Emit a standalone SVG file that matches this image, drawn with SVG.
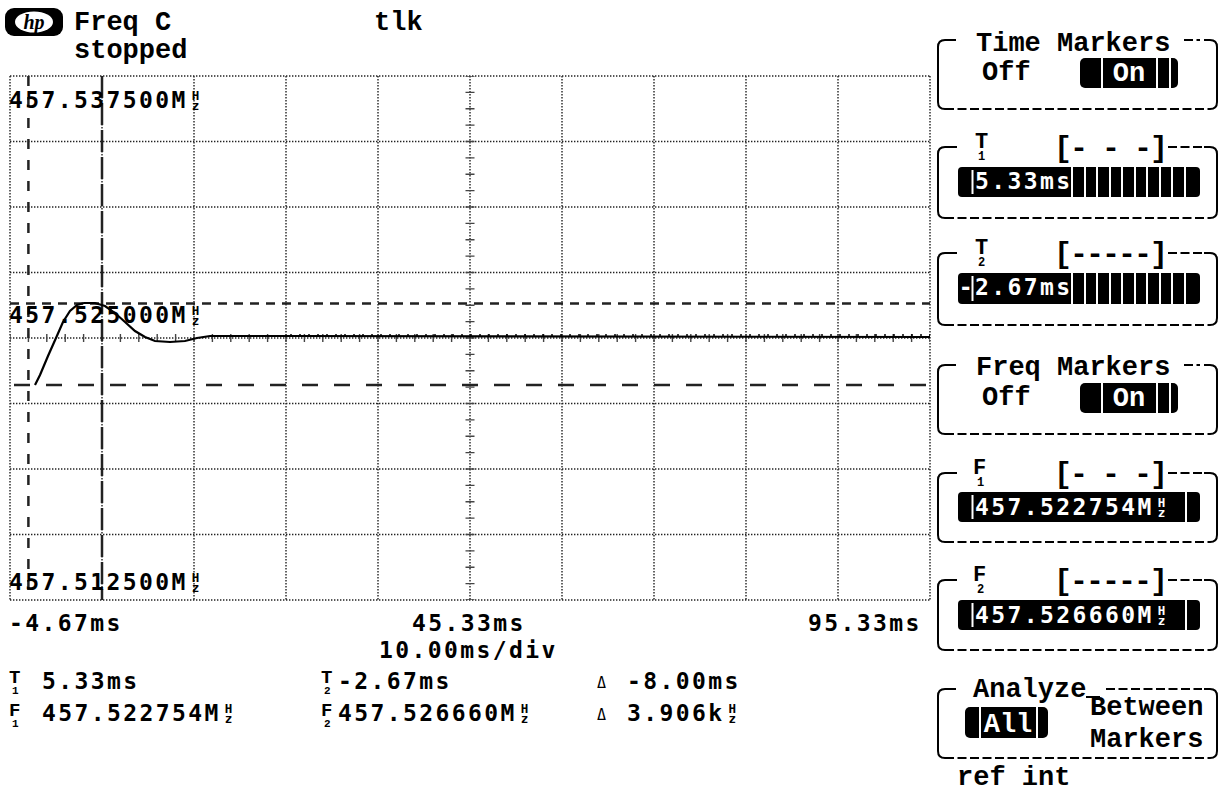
<svg xmlns="http://www.w3.org/2000/svg" width="1218" height="792" viewBox="0 0 1218 792">
<style>
.grid{fill:none;stroke:#222;stroke-width:1.4;stroke-dasharray:1.4 1.6}
.lbl{font-family:"Liberation Mono","DejaVu Sans Mono",monospace;font-weight:bold;font-size:27px;fill:#000}
.num{font-family:"DejaVu Sans Mono","Liberation Mono",monospace;font-size:23px;letter-spacing:2.4px;font-weight:bold;fill:#000}
.numb{font-family:"DejaVu Sans Mono","Liberation Mono",monospace;font-size:23px;letter-spacing:2.4px;font-weight:bold;fill:#000}
.hz{font-size:12.5px;letter-spacing:0;font-weight:bold}
.wt{fill:#fff}
.sub{font-family:"Liberation Mono","DejaVu Sans Mono",monospace;font-weight:bold;fill:#000}
.brk{font-family:"Liberation Mono","DejaVu Sans Mono",monospace;font-weight:bold;font-size:30px;fill:#000}
.edge{fill:none;stroke:#000;stroke-width:2}
.dash{fill:none;stroke:#000;stroke-width:2;stroke-dasharray:9 3.5}
.stripe{stroke:#fff;stroke-width:2}
</style>
<rect width="1218" height="792" fill="#fff"/>

<g id="header">
  <rect x="5" y="8" width="58" height="28" rx="9" fill="#000"/>
  <ellipse cx="34" cy="22" rx="19" ry="10.5" fill="#fff"/>
  <text x="34" y="29" text-anchor="middle" font-family="Liberation Serif,serif" font-style="italic" font-weight="bold" font-size="20">hp</text>
  <text class="lbl" x="74" y="30">Freq C</text>
  <text class="lbl" x="74" y="58">stopped</text>
  <text class="lbl" x="374" y="30">tlk</text>
</g>

<g id="graticule">
  <path class="grid" d="M10,76V600M102,76V600M194,76V600M286,76V600M378,76V600M470,76V600M562,76V600M654,76V600M746,76V600M838,76V600M930,76V600M10,76H930M10,141.5H930M10,207H930M10,272.5H930M10,338H930M10,403.5H930M10,469H930M10,534.5H930M10,600H930"/>
  <line x1="470" y1="76" x2="470" y2="600" stroke="#444" stroke-width="9" stroke-dasharray="1.4 14.975" stroke-dashoffset="0.7"/>
  <line x1="10" y1="338" x2="930" y2="338" stroke="#444" stroke-width="8" stroke-dasharray="1.4 17" stroke-dashoffset="0.7"/>
</g>

<g id="markers">
  <line x1="28.4" y1="76" x2="28.4" y2="600" stroke="#222" stroke-width="2.5" stroke-dasharray="10 11"/>
  <line x1="102" y1="76" x2="102" y2="600" stroke="#222" stroke-width="2.5" stroke-dasharray="22 5"/>
  <line x1="10" y1="303.5" x2="930" y2="303.5" stroke="#222" stroke-width="2.5" stroke-dasharray="9 7"/>
  <line x1="10" y1="385" x2="930" y2="385" stroke="#222" stroke-width="2.5" stroke-dasharray="16 16" stroke-dashoffset="-4"/>
</g>

<g id="trace">
  <polyline fill="none" stroke="#000" stroke-width="2.2" points="35,385 40,375 48,356 56,338 63,322 70,311 77,305 84,303 95,303 105,306 115,313 125,322 135,331 145,337 155,341 170,342 185,341 197,338 210,336 290,336 930,337"/>
  <line x1="290" y1="335" x2="930" y2="335" stroke="#000" stroke-width="1.6" stroke-dasharray="2 7"/>
</g>

<g id="axis-labels">
  <text class="numb" x="9" y="108">457.537500M<tspan class="hz" dx="4" dy="-8.5">H</tspan><tspan class="hz" dx="-7.5" dy="10.5">z</tspan></text>
  <text class="numb" x="9" y="323">457.525000M<tspan class="hz" dx="4" dy="-8.5">H</tspan><tspan class="hz" dx="-7.5" dy="10.5">z</tspan></text>
  <text class="numb" x="9" y="590">457.512500M<tspan class="hz" dx="4" dy="-8.5">H</tspan><tspan class="hz" dx="-7.5" dy="10.5">z</tspan></text>
  <text class="num" x="9" y="631">-4.67ms</text>
  <text class="num" x="412" y="631">45.33ms</text>
  <text class="num" x="808" y="631">95.33ms</text>
  <text class="num" x="379" y="658">10.00ms/div</text>
</g>

<g id="readouts">
  <text class="sub" x="9" y="683" font-size="19">T</text>
  <text class="sub" x="12" y="694" font-size="11">1</text>
  <text class="num" x="42" y="689">5.33ms</text>
  <text class="sub" x="321" y="683" font-size="19">T</text>
  <text class="sub" x="324" y="694" font-size="11">2</text>
  <text class="num" x="338" y="689">-2.67ms</text>
  <text x="597" y="688" font-family="DejaVu Sans Mono,monospace" font-size="15">Δ</text>
  <text class="num" x="627" y="689">-8.00ms</text>
  <text class="sub" x="9" y="716" font-size="19">F</text>
  <text class="sub" x="12" y="727" font-size="11">1</text>
  <text class="num" x="42" y="721">457.522754M<tspan class="hz" dx="4" dy="-8.5">H</tspan><tspan class="hz" dx="-7.5" dy="10.5">z</tspan></text>
  <text class="sub" x="321" y="716" font-size="19">F</text>
  <text class="sub" x="324" y="727" font-size="11">2</text>
  <text class="num" x="338" y="721">457.526660M<tspan class="hz" dx="4" dy="-8.5">H</tspan><tspan class="hz" dx="-7.5" dy="10.5">z</tspan></text>
  <text x="597" y="720" font-family="DejaVu Sans Mono,monospace" font-size="15">Δ</text>
  <text class="num" x="627" y="721">3.906k<tspan class="hz" dx="4" dy="-8.5">H</tspan><tspan class="hz" dx="-7.5" dy="10.5">z</tspan></text>
</g>

<g id="box-time-markers">
  <path class="edge" d="M956,40H945Q938,40 938,47V102Q938,109 945,109M1204,40H1210Q1217,40 1217,47V102Q1217,109 1210,109"/>
  <path class="dash" d="M945,109H1210M1184,40H1200"/>
  <text class="lbl" x="976" y="51">Time Markers</text>
  <text class="lbl" x="982" y="80">Off</text>
  <rect x="1080" y="58" width="98" height="30" rx="5" fill="#000"/>
  <path class="stripe" d="M1102,58V88M1157,58V88M1170,58V88"/>
  <text class="lbl wt" x="1129" y="81" text-anchor="middle">On</text>
</g>

<g id="box-t1">
  <path class="edge" d="M957,147H945Q938,147 938,154V211Q938,218 945,218M1204,147H1210Q1217,147 1217,154V211Q1217,218 1210,218"/>
  <path class="dash" d="M945,218H1210M1168,147H1202"/>
  <text class="sub" x="975" y="148" font-size="22">T</text>
  <text class="sub" x="978" y="160" font-size="12">1</text>
  <text class="brk" x="1054" y="157" textLength="114" lengthAdjust="spacing">[- - -]</text>
  <rect x="958" y="167" width="242" height="30" rx="4" fill="#000"/>
  <path class="stripe" d="M972.5,170V194M1072,167V197M1085,167V197M1097,167V197M1110,167V197M1122,167V197M1135,167V197M1147,167V197M1160,167V197M1172,167V197M1185,167V197"/>
  <text class="num wt" x="975" y="189">5.33ms</text>
</g>

<g id="box-t2">
  <path class="edge" d="M957,253H945Q938,253 938,260V318Q938,325 945,325M1204,253H1210Q1217,253 1217,260V318Q1217,325 1210,325"/>
  <path class="dash" d="M945,325H1210M1168,253H1202"/>
  <text class="sub" x="975" y="254" font-size="22">T</text>
  <text class="sub" x="978" y="266" font-size="12">2</text>
  <text class="brk" x="1054" y="263" textLength="114" lengthAdjust="spacing">[-----]</text>
  <rect x="958" y="273" width="242" height="31" rx="4" fill="#000"/>
  <path class="stripe" d="M972.5,276V301M1072,273V304M1085,273V304M1097,273V304M1110,273V304M1122,273V304M1135,273V304M1147,273V304M1160,273V304M1172,273V304M1185,273V304"/>
  <text class="num wt" x="958.75" y="295">-2.67ms</text>
</g>

<g id="box-freq-markers">
  <path class="edge" d="M956,365H945Q938,365 938,372V427Q938,434 945,434M1204,365H1210Q1217,365 1217,372V427Q1217,434 1210,434"/>
  <path class="dash" d="M945,434H1210M1184,365H1200"/>
  <text class="lbl" x="976" y="375">Freq Markers</text>
  <text class="lbl" x="982" y="405">Off</text>
  <rect x="1080" y="383" width="98" height="30" rx="5" fill="#000"/>
  <path class="stripe" d="M1102,383V413M1157,383V413M1170,383V413"/>
  <text class="lbl wt" x="1129" y="406" text-anchor="middle">On</text>
</g>

<g id="box-f1">
  <path class="edge" d="M957,473H945Q938,473 938,480V535Q938,542 945,542M1204,473H1210Q1217,473 1217,480V535Q1217,542 1210,542"/>
  <path class="dash" d="M945,542H1210M1168,473H1202"/>
  <text class="sub" x="973" y="474" font-size="22">F</text>
  <text class="sub" x="977" y="486" font-size="12">1</text>
  <text class="brk" x="1054" y="483" textLength="114" lengthAdjust="spacing">[- - -]</text>
  <rect x="958" y="492" width="242" height="30" rx="4" fill="#000"/>
  <path class="stripe" d="M972.5,495V519M1186,492V522"/>
  <text class="num wt" x="975" y="515">457.522754M<tspan class="hz" dx="4" dy="-8.5">H</tspan><tspan class="hz" dx="-7.5" dy="10.5">z</tspan></text>
</g>

<g id="box-f2">
  <path class="edge" d="M957,580H945Q938,580 938,587V643Q938,650 945,650M1204,580H1210Q1217,580 1217,587V643Q1217,650 1210,650"/>
  <path class="dash" d="M945,650H1210M1168,580H1202"/>
  <text class="sub" x="973" y="581" font-size="22">F</text>
  <text class="sub" x="977" y="593" font-size="12">2</text>
  <text class="brk" x="1054" y="590" textLength="114" lengthAdjust="spacing">[-----]</text>
  <rect x="958" y="600" width="242" height="30" rx="4" fill="#000"/>
  <path class="stripe" d="M972.5,603V627M1186,600V630"/>
  <text class="num wt" x="975" y="623">457.526660M<tspan class="hz" dx="4" dy="-8.5">H</tspan><tspan class="hz" dx="-7.5" dy="10.5">z</tspan></text>
</g>

<g id="box-analyze">
  <path class="edge" d="M956,689H945Q938,689 938,696V751Q938,758 945,758M1204,689H1210Q1217,689 1217,696V751Q1217,758 1210,758M1086,697H1100"/>
  <path class="dash" d="M945,758H1210M1106,689H1202"/>
  <text class="lbl" x="973" y="697">Analyze</text>
  <rect x="965" y="707" width="83" height="31" rx="5" fill="#000"/>
  <path class="stripe" d="M980,707V738M1037,707V738"/>
  <text class="lbl wt" x="1008" y="732" text-anchor="middle">All</text>
  <text class="lbl" x="1090" y="715" font-size="26">Between</text>
  <text class="lbl" x="1090" y="747" font-size="26">Markers</text>
</g>

<g id="footer">
  <text class="lbl" x="957" y="785" font-size="26">ref int</text>
</g>
</svg>
